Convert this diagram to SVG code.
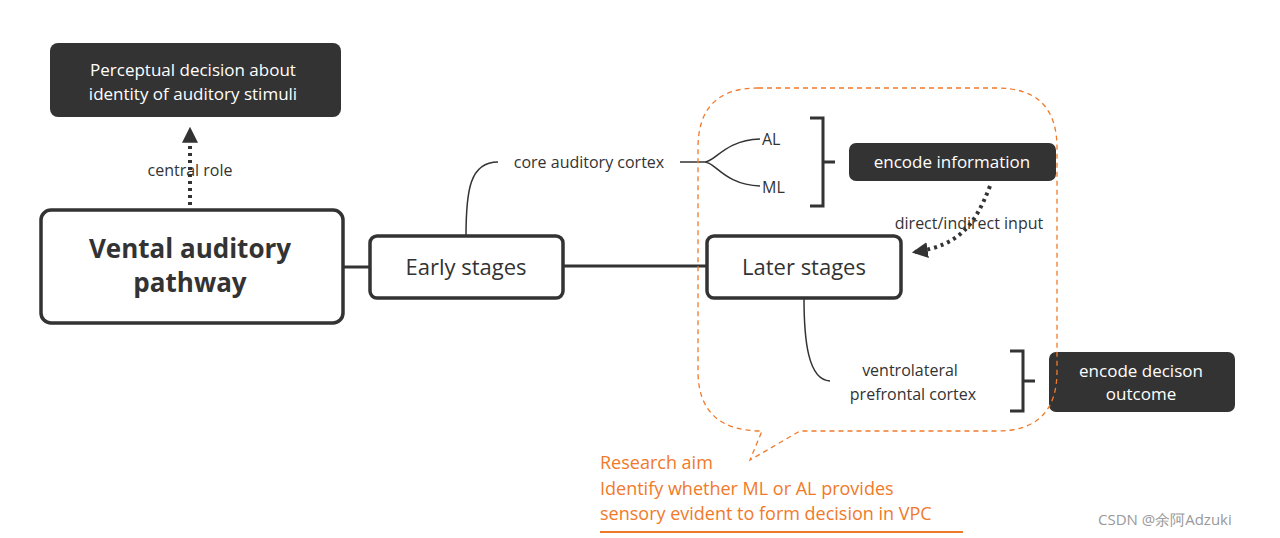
<svg xmlns="http://www.w3.org/2000/svg" width="1280" height="538" viewBox="0 0 1280 538">
<style>
text{font-family:"Open Sans","Noto Sans","Liberation Sans",sans-serif;fill:#333}
.dark{fill:#333;stroke:none}
.wt{fill:#fff;font-size:17px;text-anchor:middle}
.box{fill:#fff;stroke:#333;stroke-width:3.5}
.lbl{font-size:16px}
.ln{fill:none;stroke:#333;stroke-width:1.5}
.thick{fill:none;stroke:#333;stroke-width:3}
.dot{fill:none;stroke:#333;stroke-width:4;stroke-dasharray:3 4}
.or{fill:#f07a2a;font-size:18px}
</style>
<defs>
<marker id="ah" viewBox="0 0 10 10" refX="8" refY="5" markerWidth="4" markerHeight="4" orient="auto"><path d="M0,0L10,5L0,10z" fill="#333"/></marker>
</defs>
<rect width="1280" height="538" fill="#fff"/>
<g id="connectors">
<line class="thick" x1="343" y1="267" x2="370" y2="267"/>
<line class="thick" x1="563" y1="266" x2="707" y2="266"/>
<path class="ln" d="M466,236 C466,190 470,162 498,162"/>
<path class="ln" d="M680,162 L705,162 C715,162 725,140 760,139 M705,162 C715,162 725,185 760,186"/>
<path class="thick" d="M810,118 H823 V206 H810 M823,162 H835"/>
<path class="ln" d="M804,298 C804,340 808,380 830,381"/>
<path class="thick" d="M1010,351 H1023 V411 H1010 M1023,381 H1035"/>
<path class="dot" d="M190,205 V130" marker-end="url(#ah)"/>
<path class="dot" d="M990,186 C975,225 960,245 915,252" marker-end="url(#ah)"/>
<text class="lbl" x="190" y="176" text-anchor="middle">central role</text>
<text class="lbl" x="969" y="229" text-anchor="middle">direct/indirect input</text>
</g>
<g id="perceptual"><rect class="dark" x="50" y="43" width="291" height="74" rx="8"/><text class="wt" x="193" y="76">Perceptual decision about</text><text class="wt" x="193" y="100">identity of auditory stimuli</text></g>
<g id="ventral"><rect class="box" x="41" y="210" width="302" height="113" rx="10"/><text x="190" y="258" font-size="26" font-weight="bold" text-anchor="middle">Vental auditory</text><text x="190" y="292" font-size="26" font-weight="bold" text-anchor="middle">pathway</text></g>
<g id="early"><rect class="box" x="370" y="236" width="193" height="62" rx="7"/><text x="466" y="275" font-size="22" text-anchor="middle">Early stages</text></g>
<g id="later"><rect class="box" x="707" y="236" width="194" height="62" rx="7"/><text x="804" y="275" font-size="22" text-anchor="middle">Later stages</text></g>
<g id="core"><text class="lbl" x="589" y="168" text-anchor="middle">core auditory cortex</text></g>
<g id="al"><text class="lbl" x="762" y="145">AL</text></g>
<g id="ml"><text class="lbl" x="762" y="193">ML</text></g>
<g id="encode-info"><rect class="dark" x="849" y="143" width="207" height="38" rx="7"/><text class="wt" x="952" y="168">encode information</text></g>
<g id="vlpfc"><text class="lbl" x="910" y="376" text-anchor="middle">ventrolateral</text><text class="lbl" x="913" y="400" text-anchor="middle">prefrontal cortex</text></g>
<g id="encode-dec"><rect class="dark" x="1049" y="352" width="186" height="60" rx="7"/><text class="wt" x="1141" y="377">encode decison</text><text class="wt" x="1141" y="400">outcome</text></g>
<g id="callout">
<path d="M758,88 H997 Q1057,88 1057,148 V371 Q1057,431 997,431 H800 L750,460 L762,431 Q698,431 698,371 V148 Q698,88 758,88 Z" fill="none" stroke="#f07a2a" stroke-width="1.3" stroke-dasharray="5 4"/>
<text class="or" x="600" y="469">Research aim</text>
<text class="or" x="600" y="495">Identify whether ML or AL provides</text>
<text class="or" x="600" y="520">sensory evident to form decision in VPC</text>
<line x1="600" y1="532" x2="963" y2="532" stroke="#f07a2a" stroke-width="2"/>
</g>
<text x="1098" y="525" font-size="15" style="fill:#999">CSDN @余阿Adzuki</text>
</svg>
